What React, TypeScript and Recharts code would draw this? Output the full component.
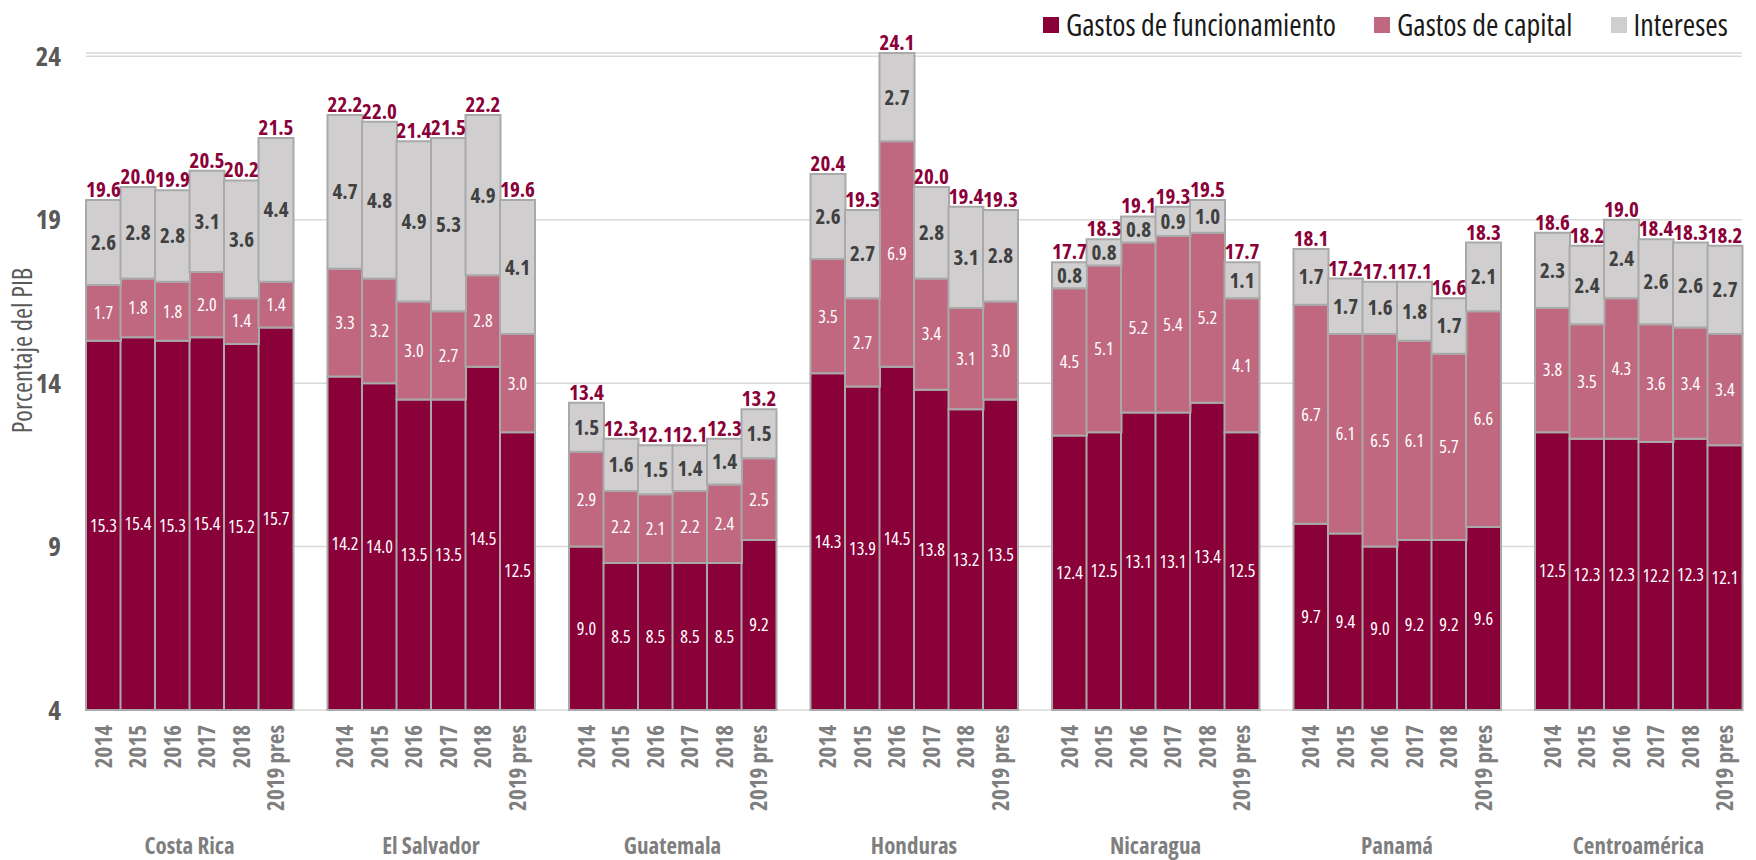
import { Bar, BarChart, CartesianGrid, LabelList, XAxis, YAxis } from "recharts";

const countries = ["Costa Rica", "El Salvador", "Guatemala", "Honduras", "Nicaragua", "Panamá", "Centroamérica"];
const years = ["2014", "2015", "2016", "2017", "2018", "2019 pres"];

const funcionamiento = [
  [15.3, 15.4, 15.3, 15.4, 15.2, 15.7],
  [14.2, 14.0, 13.5, 13.5, 14.5, 12.5],
  [9.0, 8.5, 8.5, 8.5, 8.5, 9.2],
  [14.3, 13.9, 14.5, 13.8, 13.2, 13.5],
  [12.4, 12.5, 13.1, 13.1, 13.4, 12.5],
  [9.7, 9.4, 9.0, 9.2, 9.2, 9.6],
  [12.5, 12.3, 12.3, 12.2, 12.3, 12.1],
];
const capital = [
  [1.7, 1.8, 1.8, 2.0, 1.4, 1.4],
  [3.3, 3.2, 3.0, 2.7, 2.8, 3.0],
  [2.9, 2.2, 2.1, 2.2, 2.4, 2.5],
  [3.5, 2.7, 6.9, 3.4, 3.1, 3.0],
  [4.5, 5.1, 5.2, 5.4, 5.2, 4.1],
  [6.7, 6.1, 6.5, 6.1, 5.7, 6.6],
  [3.8, 3.5, 4.3, 3.6, 3.4, 3.4],
];
const intereses = [
  [2.6, 2.8, 2.8, 3.1, 3.6, 4.4],
  [4.7, 4.8, 4.9, 5.3, 4.9, 4.1],
  [1.5, 1.6, 1.5, 1.4, 1.4, 1.5],
  [2.6, 2.7, 2.7, 2.8, 3.1, 2.8],
  [0.8, 0.8, 0.8, 0.9, 1.0, 1.1],
  [1.7, 1.7, 1.6, 1.8, 1.7, 2.1],
  [2.3, 2.4, 2.4, 2.6, 2.6, 2.7],
];
const totales = [
  [19.6, 20.0, 19.9, 20.5, 20.2, 21.5],
  [22.2, 22.0, 21.4, 21.5, 22.2, 19.6],
  [13.4, 12.3, 12.1, 12.1, 12.3, 13.2],
  [20.4, 19.3, 24.1, 20.0, 19.4, 19.3],
  [17.7, 18.3, 19.1, 19.3, 19.5, 17.7],
  [18.1, 17.2, 17.1, 17.1, 16.6, 18.3],
  [18.6, 18.2, 19.0, 18.4, 18.3, 18.2],
];
const yTicks = [4, 9, 14, 19, 24];
const Y_MIN = 4;

const COLORS = {
  funcionamiento: "#8A0038",
  capital: "#C0687F",
  intereses: "#D0CECF",
};

// no Arial Narrow here: Open Sans squeezed with font-stretch
const NARROW = "'Open Sans', 'Liberation Sans', sans-serif";

const WIDTH = 1756;
const HEIGHT = 860;
const MARGIN = { top: 53, right: 14, bottom: 0, left: 0 };
const Y_AXIS_WIDTH = 86;
const X_AXIS_HEIGHT = 150;
const PLOT_BOTTOM = HEIGHT - MARGIN.bottom - X_AXIS_HEIGHT;

type Row = {
  key: string;
  country: string;
  year: string;
  yearIndex: number;
  f: number | null;
  c: number | null;
  i: number | null;
  total: number | null;
};

const rows: Row[] = [];
countries.forEach((country, ci) => {
  years.forEach((year, yi) => {
    rows.push({
      key: `${country}-${year}`,
      country,
      year,
      yearIndex: yi,
      f: funcionamiento[ci][yi],
      c: capital[ci][yi],
      i: intereses[ci][yi],
      total: totales[ci][yi],
    });
  });
  if (ci < countries.length - 1) {
    rows.push({ key: `gap-${ci}`, country: "", year: "", yearIndex: -1, f: null, c: null, i: null, total: null });
  }
});

const BAND = (WIDTH - MARGIN.left - MARGIN.right - Y_AXIS_WIDTH) / rows.length;

const fmt = (v: any) => (v == null ? "" : Number(v).toFixed(1));

function YearTick(props: any) {
  const { x, payload } = props;
  const row = rows[payload.index];
  if (!row || !row.year) return null;
  const ty = PLOT_BOTTOM + 15;
  return (
    <g>
      <text
        x={x}
        y={ty}
        dy="0.36em"
        transform={`rotate(-90, ${x}, ${ty})`}
        textAnchor="end"
        fill="#7f7f7f"
        fontSize={23}
        fontWeight="bold"
        fontFamily={NARROW}
      >
        {row.year}
      </text>
      {row.yearIndex === 2 && (
        <text
          x={x + BAND / 2}
          y={PLOT_BOTTOM + 144}
          textAnchor="middle"
          fill="#7f7f7f"
          fontSize={23}
          fontWeight="bold"
          fontFamily={NARROW}
        >
          {row.country}
        </text>
      )}
    </g>
  );
}

function AxisTitle(props: any) {
  const { viewBox } = props;
  const x = viewBox.x + 22;
  const y = viewBox.y + viewBox.height / 2 - 31;
  return (
    <text
      x={x}
      y={y}
      dy="0.36em"
      transform={`rotate(-90, ${x}, ${y})`}
      textAnchor="middle"
      fill="#595959"
      fontSize={26.5}
      fontFamily={NARROW}
    >
      Porcentaje del PIB
    </text>
  );
}

const legendItems = [
  { name: "Gastos de funcionamiento", color: COLORS.funcionamiento },
  { name: "Gastos de capital", color: COLORS.capital },
  { name: "Intereses", color: COLORS.intereses },
];

export default function App() {
  return (
    <div
      className="chart"
      style={{ position: "absolute", left: 0, top: 0, width: WIDTH, height: HEIGHT, background: "#fff" }}
    >
      <style>{`.chart text { font-stretch: 75%; }`}</style>
      <BarChart
        width={WIDTH}
        height={HEIGHT}
        data={rows}
        margin={MARGIN}
        barCategoryGap={0}
        barGap={0}
      >
        <CartesianGrid vertical={false} stroke="#d9d9d9" strokeWidth={1.5} />
        <XAxis
          xAxisId="main"
          dataKey="key"
          interval={0}
          height={X_AXIS_HEIGHT}
          tickSize={0}
          tickMargin={0}
          tickLine={false}
          axisLine={false}
          tick={<YearTick />}
        />
        <XAxis xAxisId="cap" dataKey="key" hide />
        <XAxis xAxisId="int" dataKey="key" hide />
        <YAxis
          domain={[Y_MIN, "dataMax"]}
          ticks={yTicks}
          width={Y_AXIS_WIDTH}
          tickSize={0}
          tickMargin={25}
          tickLine={false}
          axisLine={false}
          tick={{ fill: "#595959", fontSize: 27, fontWeight: "bold", fontFamily: NARROW }}
          label={{ content: <AxisTitle /> }}
        />
        <Bar
          xAxisId="main"
          name="Gastos de funcionamiento"
          dataKey={(r: Row) => (r.f == null ? null : [Y_MIN, r.f])}
          fill={COLORS.funcionamiento}
          stroke="#a9a9a9"
          strokeWidth={2}
          isAnimationActive={false}
        >
          <LabelList dataKey="f" position="center" fill="#ffffff" fontSize={18} fontFamily={NARROW} formatter={fmt} />
        </Bar>
        <Bar
          xAxisId="cap"
          name="Gastos de capital"
          dataKey={(r: Row) => (r.f == null || r.c == null ? null : [r.f, r.f + r.c])}
          fill={COLORS.capital}
          stroke="#a9a9a9"
          strokeWidth={2}
          isAnimationActive={false}
        >
          <LabelList dataKey="c" position="center" fill="#ffffff" fontSize={18} fontFamily={NARROW} formatter={fmt} />
        </Bar>
        <Bar
          xAxisId="int"
          name="Intereses"
          dataKey={(r: Row) => (r.f == null || r.c == null || r.i == null ? null : [r.f + r.c, r.f + r.c + r.i])}
          fill={COLORS.intereses}
          stroke="#a9a9a9"
          strokeWidth={2}
          isAnimationActive={false}
        >
          <LabelList dataKey="i" position="center" fill="#404040" fontSize={21} fontWeight="bold" fontFamily={NARROW} formatter={fmt} />
          <LabelList dataKey="total" position="top" offset={3} fill="#8A0038" fontSize={21} fontWeight="bold" fontFamily={NARROW} formatter={fmt} />
        </Bar>
      </BarChart>
      <div
        style={{
          position: "absolute",
          left: 1043,
          top: 6,
          display: "flex",
          alignItems: "center",
          gap: 38,
          fontFamily: NARROW,
          fontStretch: "75%",
          fontSize: 30,
          color: "#1a1a1a",
          lineHeight: "38px",
          whiteSpace: "nowrap",
        }}
      >
        {legendItems.map((item) => (
          <div key={item.name} style={{ display: "flex", alignItems: "center", gap: 7 }}>
            <span style={{ display: "inline-block", width: 16, height: 16, background: item.color }} />
            <span>{item.name}</span>
          </div>
        ))}
      </div>
    </div>
  );
}
